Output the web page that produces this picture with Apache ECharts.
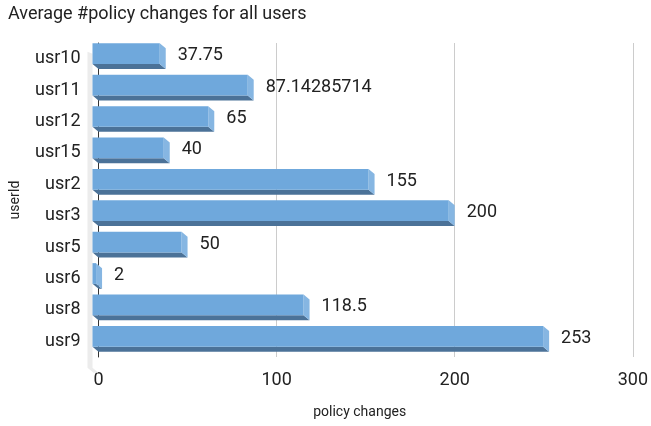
<!DOCTYPE html>
<html>
<head>
<meta charset="utf-8">
<script src="https://cdn.jsdelivr.net/npm/echarts@6/dist/echarts.min.js"></script>
<style>
  html, body { margin: 0; padding: 0; background: #fff; }
  #chart { width: 651px; height: 426px; }
</style>
</head>
<body>
<div id="chart"></div>
<script>
// Users, listed top to bottom
const users = ['usr10', 'usr11', 'usr12', 'usr15', 'usr2', 'usr3', 'usr5', 'usr6', 'usr8', 'usr9'];
// Average number of policy changes per user
const avgChanges = [37.75, 87.14285714, 65, 40, 155, 200, 50, 2, 118.5, 253];
// Value axis ticks
const xTicks = [0, 100, 200, 300];

const FONT = 'Roboto, "Noto Sans", sans-serif';
const DEPTH_X = 6, DEPTH_Y = 5;   // offset of the bar's front face from the back plane
const FACE = '#6fa8dc', BOTTOM = '#4b7298', SIDE = '#86b6e2';

const chart = echarts.init(document.getElementById('chart'), null, { renderer: 'canvas' });

function renderBar(params, api) {
  const v = api.value(0);
  const cat = api.value(1);
  const end = api.coord([v, cat]);
  const start = api.coord([0, cat]);
  const band = api.size([0, 1])[1];
  const h = band * 0.66;
  // back plane rectangle
  const bx0 = start[0], bx1 = end[0];
  const by0 = end[1] - h / 2, by1 = end[1] + h / 2;
  // front face rectangle
  const fx0 = bx0 - DEPTH_X, fx1 = bx1 - DEPTH_X;
  const fy0 = by0 - DEPTH_Y, fy1 = by1 - DEPTH_Y;
  const label = String(v);
  return {
    type: 'group',
    children: [
      { // bottom face
        type: 'polygon',
        shape: { points: [[fx0, fy1], [fx1, fy1], [bx1, by1], [bx0, by1]] },
        style: { fill: BOTTOM }
      },
      { // right end face
        type: 'polygon',
        shape: { points: [[fx1, fy0], [bx1, by0], [bx1, by1], [fx1, fy1]] },
        style: { fill: SIDE }
      },
      { // front face
        type: 'rect',
        shape: { x: fx0, y: fy0, width: fx1 - fx0, height: fy1 - fy0 },
        style: { fill: FACE }
      },
      { // value label
        type: 'text',
        style: {
          x: bx1 + 12, y: end[1] - 3,
          text: label,
          fill: '#222', font: '18px ' + FONT,
          verticalAlign: 'middle', align: 'left'
        }
      }
    ]
  };
}

// light side wall at the value-axis origin
function renderWall(params, api) {
  const top = api.coord([0, -0.5]);
  const bot = api.coord([0, users.length - 0.5]);
  const x = top[0];
  return {
    type: 'polygon',
    shape: {
      points: [
        [x - DEPTH_X - 5, top[1] - DEPTH_Y - 2],
        [x - DEPTH_X, top[1] - DEPTH_Y],
        [x - DEPTH_X, bot[1] - DEPTH_Y],
        [x, bot[1]],
        [x - 5, bot[1]],
        [x - DEPTH_X - 5, bot[1] - DEPTH_Y]
      ]
    },
    style: { fill: '#ececec' },
    z2: 0
  };
}

chart.setOption({
  animation: false,
  title: {
    text: 'Average #policy changes for all users',
    left: 3, top: 0,
    textStyle: { fontFamily: FONT, fontSize: 18, fontWeight: 'normal', color: '#222' }
  },
  grid: { left: 98.5, right: 14, top: 43, bottom: 69, containLabel: false },
  xAxis: {
    type: 'value',
    min: 0, max: 300, interval: 100,
    name: 'policy changes',
    nameLocation: 'middle',
    nameGap: 48,
    nameTextStyle: { fontFamily: FONT, fontSize: 14, color: '#222', padding: [0, 12, 0, 0] },
    axisLine: { show: false },
    axisTick: { show: false },
    axisLabel: {
      fontFamily: FONT, fontSize: 18, color: '#222', margin: 14,
      customValues: xTicks
    },
    splitLine: { lineStyle: { color: '#cccccc', width: 1 } }
  },
  yAxis: {
    type: 'category',
    data: users,
    inverse: true,
    name: 'userId',
    nameLocation: 'middle',
    nameGap: 76,
    nameRotate: 90,
    nameTextStyle: { fontFamily: FONT, fontSize: 14, color: '#222' },
    axisLine: { show: true, lineStyle: { color: '#333', width: 1 } },
    axisTick: { show: false },
    axisLabel: {
      fontFamily: FONT, fontSize: 18, color: '#222', margin: 18,
      padding: [0, 0, 10, 0]
    },
    splitLine: { show: false }
  },
  series: [
    {
      type: 'custom',
      renderItem: renderWall,
      data: [[0, 0]],
      encode: { x: 0, y: 1 },
      z: 1,
      silent: true
    },
    {
      type: 'custom',
      renderItem: renderBar,
      data: avgChanges.map((v, i) => [v, i]),
      encode: { x: 0, y: 1 },
      z: 2
    }
  ]
});
</script>
</body>
</html>
